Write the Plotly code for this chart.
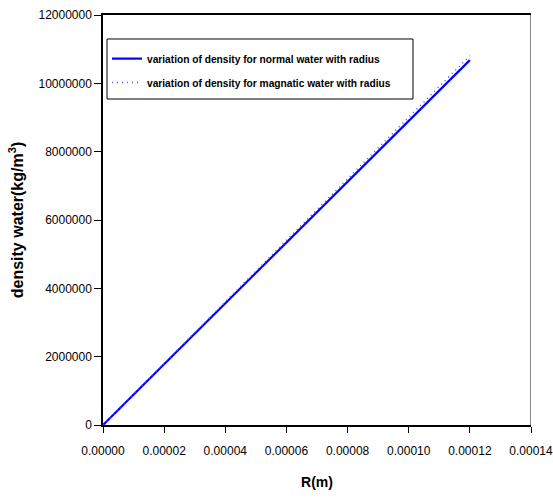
import plotly.graph_objects as go

radius_m = [0.0, 0.00002, 0.00004, 0.00006, 0.00008, 0.00010, 0.00012]
density_normal = [0, 1780000, 3560000, 5340000, 7120000, 8900000, 10680000]
density_magnetic = [0, 1802000, 3603000, 5405000, 7207000, 9008000, 10810000]

x_ticks = [0.0, 0.00002, 0.00004, 0.00006, 0.00008, 0.00010, 0.00012, 0.00014]
y_ticks = [0, 2000000, 4000000, 6000000, 8000000, 10000000, 12000000]

fig = go.Figure()
fig.add_trace(go.Scatter(
    x=radius_m, y=density_normal, mode="lines",
    name="variation of density for normal water with radius",
    legendgroup="a",
    line=dict(color="#0000FF", width=2.2)))
fig.add_trace(go.Scatter(
    x=radius_m, y=density_magnetic, mode="lines",
    name="variation of density for magnatic water with radius",
    legendgroup="b",
    line=dict(color="#4D4DFF", width=1.5, dash="1px,4px")))

font = "Liberation Sans, Arial, sans-serif"
fig.update_layout(
    width=553, height=498,
    margin=dict(l=103, r=22, t=15, b=73, autoexpand=False),
    paper_bgcolor="white", plot_bgcolor="white",
    font=dict(family=font, size=12, color="black"),
    showlegend=True,
    legend=dict(x=0.0093, y=0.929, xanchor="left", yanchor="top",
                borderwidth=0, bgcolor="rgba(0,0,0,0)",
                font=dict(family=font, size=10.2, color="black", weight="bold"),
                tracegroupgap=5, itemwidth=30),
    xaxis=dict(range=[0, 0.00014], tickvals=x_ticks, tickformat=".5f",
               automargin=False, ticklabeloverflow="allow",
               ticklabelstandoff=8,
               showgrid=False, zeroline=False, showline=True,
               linecolor="black", linewidth=1.5, mirror=True,
               ticks="outside", ticklen=6, tickcolor="black",
               title=dict(text="<b>R(m)</b>", font=dict(size=14), standoff=20)),
    yaxis=dict(range=[0, 12000000], tickvals=y_ticks, tickformat="d",
               automargin=False, ticklabeloverflow="allow",
               showgrid=False, zeroline=False, showline=True,
               linecolor="black", linewidth=1.5,
               ticks="outside", ticklen=7, tickcolor="black",
               title=dict(text="<b>density water(kg/m<sup>3</sup>)</b>",
                          font=dict(size=16), standoff=11)),
)
# right frame edge (grey) and legend frame
fig.add_shape(type="line", xref="x", yref="y", x0=0.00014, x1=0.00014,
              y0=0, y1=12000000, line=dict(color="#888888", width=2))
fig.add_shape(type="rect", xref="paper", yref="paper",
              x0=0.00935, x1=0.7243, y0=0.7951, y1=0.9415,
              line=dict(color="black", width=1), fillcolor="rgba(0,0,0,0)",
              layer="above")

fig.write_html("out.html", config={"displayModeBar": False},
               post_script="document.body.style.margin='0px';")
